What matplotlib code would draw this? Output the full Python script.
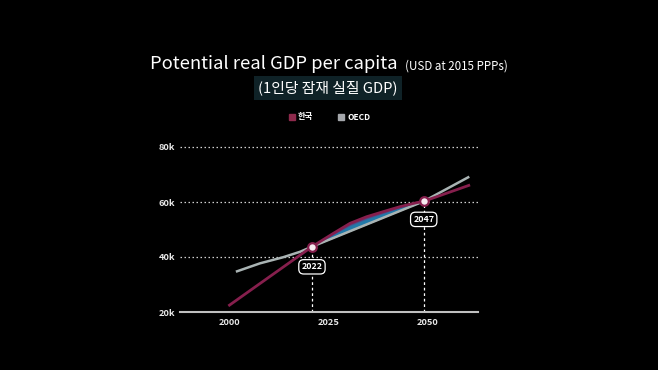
import numpy as np
import matplotlib.pyplot as plt
from matplotlib.patches import Rectangle
from matplotlib.colors import to_rgb

plt.rcParams['font.family'] = ['Noto Sans CJK KR', 'DejaVu Sans']

# ---- data (values in thousand USD) ----
kr_years = [1999.6, 2020.7, 2026.1, 2030.3, 2034.5, 2038.7, 2042.9, 2047.1, 2048.9, 2060.6]
kr_values = [22.2, 43.75, 48.6, 52.25, 54.65, 56.5, 58.3, 59.75, 60.25, 66.2]
oecd_years = [2001.5, 2007.6, 2013.4, 2017.7, 2020.7, 2048.9, 2060.4]
oecd_values = [34.65, 37.7, 39.9, 41.9, 43.75, 60.25, 69.2]
cross_x = [2020.7, 2048.9]
cross_y = [43.75, 60.25]
cross_labels = ['2022', '2047']
x_ticks = [2000, 2025, 2050]
x_labels = ['2000', '2025', '2050']
y_ticks = [20, 40, 60, 80]
y_labels = ['20k', '40k', '60k', '80k']
series_names = ['한국', 'OECD']

KR_COLOR = '#861f4d'
OECD_COLOR = '#a9b3b3'
W, H = 658, 370

fig = plt.figure(figsize=(W / 100, H / 100), dpi=100, facecolor='black')
ax = fig.add_axes([180 / W, 58 / H, 298 / W, 170.5 / H])
ax.set_facecolor('black')
ax.set_xlim(1987.4, 2062.6)
ax.set_ylim(20, 82)

# grid
for y in y_ticks[1:]:
    ax.axhline(y, color='#d0d0d0', lw=0.9, ls=(0, (1.2, 2.0)), zorder=1)

# gradient band between the crossings
xg = np.linspace(cross_x[0], cross_x[1], 200)
kg = np.interp(xg, kr_years, kr_values)
og = np.interp(xg, oecd_years, oecd_values)
c_low = np.array(to_rgb('#8fd0ee'))
c_mid = np.array(to_rgb('#2ea3e2'))
c_high = np.array(to_rgb('#a82a80'))
n = 24
for i in range(n):
    t0, t1 = i / n, (i + 1) / n
    tm = (t0 + t1) / 2
    if tm < 0.35:
        c = c_low + (c_mid - c_low) * (tm / 0.35)
    elif tm < 0.65:
        c = c_mid
    else:
        c = c_mid + (c_high - c_mid) * ((tm - 0.65) / 0.35)
    ax.fill_between(xg, og + t0 * (kg - og), og + t1 * (kg - og) + 0.02,
                    color=c, lw=0, zorder=2)

# lines
ax.plot(oecd_years, oecd_values, color=OECD_COLOR, lw=1.8, zorder=3,
        solid_capstyle='butt')
ax.plot(kr_years, kr_values, color=KR_COLOR, lw=2.0, zorder=4,
        solid_capstyle='butt')

# crossing markers, dashed drop lines, labels
ax.vlines(cross_x, 20, cross_y, colors='white', lw=0.9, ls=(0, (2.2, 2.2)), zorder=2)
ax.plot(cross_x, cross_y, 'o', ms=6.2, mfc='#f7eaf0', mec=KR_COLOR, mew=1.6, zorder=6)
for x, y, lab, off in zip(cross_x, cross_y, cross_labels, [-14.5, -13]):
    ax.annotate(lab, xy=(x, y), xytext=(0, off), textcoords='offset points',
                ha='center', va='center', color='white', fontsize=6.4,
                fontweight='bold', zorder=7,
                bbox=dict(boxstyle='round,pad=0.3,rounding_size=0.55',
                          fc='black', ec='white', lw=0.9))

# axes styling
for s in ['top', 'right', 'left']:
    ax.spines[s].set_visible(False)
ax.spines['bottom'].set_color('#c0c0c0')
ax.spines['bottom'].set_linewidth(1.5)
ax.set_xticks(x_ticks)
ax.set_xticklabels(x_labels)
ax.set_yticks(y_ticks)
ax.set_yticklabels(y_labels)
ax.tick_params(axis='both', length=0, colors='#e8e8e8', labelsize=6.7)
ax.tick_params(axis='y', pad=3.5)
ax.tick_params(axis='x', pad=4.3)
for lab in ax.get_xticklabels() + ax.get_yticklabels():
    lab.set_fontweight('bold')

# title
t1 = fig.text(150 / W, 1 - 69.3 / H, 'Potential real GDP per capita', color='white',
              fontsize=15, ha='left', va='baseline')
t2 = fig.text(404 / W, 1 - 69.3 / H, '(USD at 2015 PPPs)', color='white',
              fontsize=9, ha='left', va='baseline')
t3 = fig.text(328 / W, 1 - 88 / H, '(1인당 잠재 실질 GDP)', color='white',
              fontsize=11.5, ha='center', va='center',
              bbox=dict(boxstyle='square,pad=0.3', fc='#0f2227', ec='none'))

# fit the title pieces to the reference widths (pixels)
fig.canvas.draw()
r = fig.canvas.get_renderer()
for t, target in [(t1, 247), (t2, 103), (t3, 140)]:
    w = t.get_window_extent(r).width
    t.set_fontsize(t.get_fontsize() * target / w)
fig.canvas.draw()
w1 = t1.get_window_extent(r)
t2.set_x((w1.x1 + 7) / W)

# legend
fig.add_artist(Rectangle((289 / W, 1 - 120 / H), 6 / W, 6 / H,
                         transform=fig.transFigure, color='#8e2a4c'))
fig.text(298 / W, 1 - 117 / H, series_names[0], color='white', fontsize=6,
         fontweight='bold', ha='left', va='center')
fig.add_artist(Rectangle((337.5 / W, 1 - 120 / H), 6 / W, 6 / H,
                         transform=fig.transFigure, color='#a4a7ab'))
fig.text(347.5 / W, 1 - 117 / H, series_names[1], color='white', fontsize=6,
         fontweight='bold', ha='left', va='center')

fig.savefig('out.png', dpi=100, facecolor='black')
